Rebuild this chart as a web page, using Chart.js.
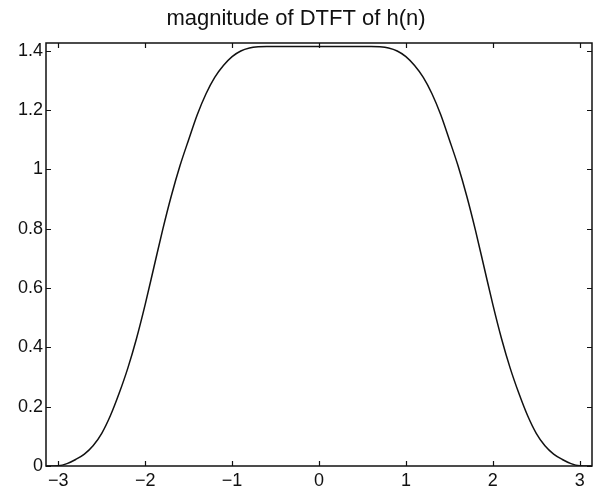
<!DOCTYPE html>
<html>
<head>
<meta charset="utf-8">
<script src="https://cdn.jsdelivr.net/npm/chart.js@4/dist/chart.umd.min.js"></script>
<style>
  html, body { margin:0; padding:0; background:#fff; }
  #wrap { width:600px; height:496px; }
</style>
</head>
<body>
<div id="wrap"><canvas id="dtft" width="600" height="496"></canvas></div>
<script>
// frequency (rad) and |H(w)|
const omega = [-3.1416, -3.0, -2.9, -2.8, -2.7, -2.6, -2.5, -2.4, -2.3, -2.2, -2.1, -2.0, -1.9, -1.8, -1.7, -1.6, -1.5, -1.4, -1.3, -1.2, -1.1, -1.0, -0.9, -0.8, -0.7, -0.6, 0,
                0.6, 0.7, 0.8, 0.9, 1.0, 1.1, 1.2, 1.3, 1.4, 1.5, 1.6, 1.7, 1.8, 1.9, 2.0, 2.1, 2.2, 2.3, 2.4, 2.5, 2.6, 2.7, 2.8, 2.9, 3.0, 3.1416];
const mag = [0, 0.001, 0.008, 0.022, 0.040, 0.068, 0.11, 0.17, 0.245, 0.33, 0.43, 0.545, 0.67, 0.795, 0.91, 1.012, 1.10, 1.185, 1.255, 1.31, 1.35, 1.38, 1.399, 1.409, 1.413, 1.414, 1.414,
             1.414, 1.413, 1.409, 1.399, 1.38, 1.35, 1.31, 1.255, 1.185, 1.10, 1.012, 0.91, 0.795, 0.67, 0.545, 0.43, 0.33, 0.245, 0.17, 0.11, 0.068, 0.040, 0.022, 0.008, 0.001, 0];
const xTicks = [-3, -2, -1, 0, 1, 2, 3];
const yTicks = [0, 0.2, 0.4, 0.6, 0.8, 1, 1.2, 1.4];
const titleText = "magnitude of DTFT of h(n)";

const FONT = "'Liberation Sans', Arial, Helvetica, sans-serif";

// matlab style box with inward ticks
const boxPlugin = {
  id: "box",
  afterDraw(chart){
    const {ctx, chartArea:a, scales:{x, y}} = chart;
    const tl = 5;
    ctx.save();
    ctx.strokeStyle = "#111";
    ctx.lineWidth = 1.5;
    ctx.strokeRect(a.left, a.top, a.right - a.left, a.bottom - a.top);
    ctx.lineWidth = 1.2;
    ctx.beginPath();
    xTicks.forEach(t => {
      const px = Math.round(x.getPixelForValue(t)) + 0.5;
      ctx.moveTo(px, a.bottom); ctx.lineTo(px, a.bottom - tl);
      ctx.moveTo(px, a.top); ctx.lineTo(px, a.top + tl);
    });
    yTicks.forEach(t => {
      const py = Math.round(y.getPixelForValue(t)) + 0.5;
      ctx.moveTo(a.left, py); ctx.lineTo(a.left + tl, py);
      ctx.moveTo(a.right, py); ctx.lineTo(a.right - tl, py);
    });
    ctx.stroke();
    ctx.restore();
  }
};

new Chart(document.getElementById("dtft"), {
  type: "scatter",
  data: {
    datasets: [{
      data: omega.map((w, i) => ({x: w, y: mag[i]})),
      showLine: true,
      borderColor: "#111",
      borderWidth: 1.5,
      pointRadius: 0,
      cubicInterpolationMode: "monotone",
      fill: false
    }]
  },
  options: {
    responsive: false,
    animation: false,
    layout: { padding: { left: 0, right: 8, top: 0, bottom: 0 } },
    plugins: {
      legend: { display: false },
      tooltip: { enabled: false },
      title: {
        display: true,
        text: titleText,
        color: "#111",
        font: { family: FONT, size: 22, weight: "normal", lineHeight: 1.1 },
        padding: { top: 7, bottom: 11.8 }
      }
    },
    scales: {
      x: {
        type: "linear",
        min: -Math.PI,
        max: Math.PI,
        afterBuildTicks: s => { s.ticks = xTicks.map(v => ({value: v})); },
        afterFit: s => { s.height = 30; },
        grid: { display: false, drawTicks: false },
        border: { display: false },
        ticks: {
          color: "#111",
          padding: 4,
          maxRotation: 0,
          font: { family: FONT, size: 18 },
          callback: v => (v < 0 ? "\u2212" + Math.abs(v) : String(v))
        }
      },
      y: {
        type: "linear",
        min: 0,
        max: 1.426,
        afterBuildTicks: s => { s.ticks = yTicks.map(v => ({value: v})); },
        afterFit: s => { s.width = 46; },
        grid: { display: false, drawTicks: false },
        border: { display: false },
        ticks: {
          color: "#111",
          padding: 3,
          font: { family: FONT, size: 18 },
          callback: v => String(Math.round(v * 10) / 10)
        }
      }
    }
  },
  plugins: [boxPlugin]
});
</script>
</body>
</html>
